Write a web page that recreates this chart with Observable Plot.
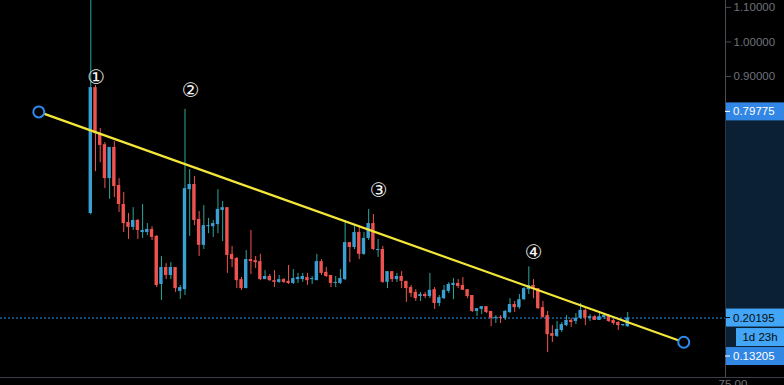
<!DOCTYPE html>
<html><head><meta charset="utf-8">
<script src="https://cdn.jsdelivr.net/npm/d3@7"></script>
<script src="https://cdn.jsdelivr.net/npm/@observablehq/plot@0.6"></script>
<style>html,body{margin:0;padding:0;background:#000;overflow:hidden}svg{display:block}</style>
</head><body><div id="chart"></div>
<script>
// OHLC values (candle index 0..114)
const opens  = [0.504,0.868,0.735,0.703,0.605,0.695,0.585,0.530,0.478,0.464,0.484,0.449,0.449,0.458,0.438,0.299,0.348,0.325,0.348,0.279,
                0.284,0.573,0.588,0.487,0.412,0.466,0.466,0.472,0.513,0.521,0.386,0.374,0.313,0.287,0.371,0.368,0.365,0.313,0.322,0.310,
                0.305,0.313,0.308,0.302,0.313,0.313,0.319,0.313,0.310,0.365,0.334,0.325,0.302,0.302,0.313,0.420,0.406,0.449,0.386,0.432,
                0.475,0.397,0.400,0.305,0.336,0.313,0.322,0.308,0.290,0.276,0.264,0.270,0.264,0.284,0.244,0.258,0.279,0.296,0.302,0.296,
                0.284,0.267,0.221,0.227,0.235,0.221,0.201,0.204,0.201,0.218,0.241,0.232,0.255,0.284,0.296,0.287,0.232,0.209,0.157,0.149,
                0.166,0.180,0.195,0.192,0.201,0.224,0.201,0.206,0.195,0.203,0.209,0.195,0.189,0.180,0.177];
const highs  = [1.150,0.874,0.750,0.709,0.695,0.712,0.605,0.565,0.504,0.521,0.487,0.530,0.475,0.466,0.440,0.380,0.359,0.362,0.348,0.296,
                0.805,0.631,0.611,0.510,0.527,0.490,0.484,0.573,0.539,0.521,0.409,0.377,0.319,0.397,0.455,0.380,0.386,0.339,0.328,0.339,
                0.325,0.316,0.354,0.342,0.331,0.331,0.331,0.322,0.386,0.371,0.348,0.325,0.322,0.342,0.484,0.420,0.472,0.469,0.449,0.516,
                0.501,0.429,0.409,0.336,0.336,0.331,0.336,0.308,0.296,0.284,0.276,0.276,0.331,0.290,0.267,0.296,0.304,0.316,0.313,0.319,
                0.284,0.267,0.229,0.235,0.235,0.221,0.209,0.209,0.224,0.258,0.250,0.270,0.290,0.350,0.313,0.287,0.250,0.221,0.180,0.192,
                0.189,0.209,0.201,0.215,0.244,0.229,0.212,0.209,0.215,0.215,0.212,0.198,0.192,0.183,0.218];
const lows   = [0.500,0.625,0.651,0.576,0.545,0.550,0.507,0.449,0.429,0.455,0.429,0.432,0.440,0.426,0.290,0.253,0.313,0.313,0.276,0.256,
                0.267,0.438,0.469,0.380,0.400,0.446,0.435,0.446,0.423,0.331,0.348,0.287,0.282,0.287,0.328,0.345,0.310,0.313,0.308,0.290,
                0.302,0.302,0.299,0.299,0.302,0.305,0.296,0.299,0.310,0.325,0.319,0.290,0.290,0.299,0.310,0.362,0.400,0.371,0.383,0.426,
                0.397,0.377,0.302,0.287,0.305,0.305,0.287,0.247,0.261,0.250,0.250,0.258,0.258,0.227,0.235,0.255,0.273,0.255,0.287,0.284,
                0.258,0.218,0.206,0.212,0.215,0.177,0.186,0.186,0.195,0.215,0.218,0.227,0.253,0.270,0.258,0.227,0.201,0.102,0.131,0.146,
                0.160,0.177,0.175,0.183,0.198,0.180,0.192,0.195,0.195,0.198,0.189,0.181,0.166,0.177,0.175];
const closes = [0.868,0.735,0.701,0.605,0.695,0.582,0.530,0.475,0.464,0.484,0.455,0.455,0.458,0.435,0.296,0.348,0.325,0.348,0.287,0.290,
                0.576,0.588,0.484,0.412,0.469,0.469,0.475,0.516,0.521,0.383,0.371,0.310,0.287,0.371,0.365,0.362,0.313,0.322,0.310,0.305,
                0.313,0.305,0.302,0.316,0.319,0.322,0.310,0.316,0.365,0.331,0.322,0.302,0.305,0.316,0.420,0.406,0.449,0.386,0.432,0.475,
                0.400,0.400,0.305,0.336,0.313,0.322,0.308,0.287,0.273,0.258,0.270,0.264,0.282,0.244,0.261,0.282,0.299,0.302,0.293,0.282,
                0.264,0.221,0.229,0.235,0.218,0.201,0.204,0.201,0.221,0.241,0.232,0.255,0.287,0.296,0.287,0.229,0.204,0.154,0.149,0.169,
                0.183,0.195,0.189,0.201,0.224,0.201,0.206,0.195,0.206,0.209,0.192,0.186,0.180,0.183,0.20195];

const tickValues = [0.3, 0.4, 0.5, 0.6, 0.7, 0.9, 1.0, 1.1];
const markerLabels = ["①", "②", "③", "④"];
const markerCandles = [1.15, 21.2, 61.15, 94.05];
const markerPrices = [0.898, 0.858, 0.571, 0.392];
const trendIndex = [-11.04, 125.9];
const trendPrice = [0.79775, 0.13205];
const lastPrice = 0.20195;
const countdownText = "1d 23h";
const lowerPaneLabel = "75.00";

const candles = opens.map((o, i) => {
  const c = closes[i];
  let top = Math.max(o, c), bot = Math.min(o, c);
  if (top - bot < 0.003) { const m = (top + bot) / 2; top = m + 0.0015; bot = m - 0.0015; }
  return {i, open: o, high: highs[i], low: lows[i], close: c, top, bot, up: c >= o};
});
const trend = trendIndex.map((x, k) => ({x, y: trendPrice[k]}));
const markers = markerLabels.map((t, k) => ({t, x: markerCandles[k], y: markerPrices[k]}));

const upBody = "#3aa0d4", upWick = "#2ba89c", down = "#ef5350";
const font = "'Liberation Sans', Arial, sans-serif";
const yDomain = [0.0301, 1.1197];
const xDomain = [-19.17, 134.76];

const plot = Plot.plot({
  width: 784, height: 385,
  marginTop: 0, marginBottom: 8, marginLeft: 0, marginRight: 59,
  style: {background: "#000", fontFamily: font, fontSize: "11.5px"},
  x: {type: "linear", domain: xDomain, axis: null},
  y: {type: "linear", domain: yDomain, axis: null},
  marks: [
    Plot.ruleY([lastPrice], {stroke: "#2196f3", strokeWidth: 1, strokeDasharray: "2,2"}),
    Plot.ruleX(candles, {x: "i", y1: "low", y2: "high", stroke: d => d.up ? upWick : down, strokeWidth: 1, clip: true}),
    Plot.rect(candles, {x1: d => d.i - 0.36, x2: d => d.i + 0.36, y1: "bot", y2: "top", fill: d => d.up ? upBody : down, clip: true}),
    Plot.line(trend, {x: "x", y: "y", stroke: "#f2e63a", strokeWidth: 2.2}),
    Plot.dot(trend, {x: "x", y: "y", r: 5.5, stroke: "#2f8af0", strokeWidth: 2, fill: "#000"}),
    Plot.text(markers, {x: "x", y: "y", text: "t", fill: "#f4f4f4", fontSize: 20, fontFamily: "'DejaVu Sans', sans-serif", lineAnchor: "middle"}),
    Plot.ruleX([xDomain[1]], {stroke: "#4a4d55", strokeWidth: 1}),
    Plot.axisY(tickValues, {anchor: "right", tickSize: 5, tickPadding: 3, tickFormat: d3.format(".5f"), stroke: "#4a4d55", fill: "#6f727c", fontSize: 11.5})
  ]
});
document.getElementById("chart").appendChild(plot);

// price-scale labels drawn through the plot's own y scale
const ys = plot.scale("y");
const svg = d3.select(plot);
const xAxis = 725, W = 784;
const yTop = ys.apply(trendPrice[0]), yBot = ys.apply(trendPrice[1]);
const g = svg.append("g").attr("font-family", font).attr("font-size", 11.5);
g.append("rect").attr("x", xAxis + 0.5).attr("y", yTop).attr("width", W - xAxis).attr("height", yBot - yTop + 13).attr("fill", "#0b1f35");
function box(yc, label, bg, fg, x0, anchorMid) {
  g.append("rect").attr("x", x0).attr("y", yc - 9).attr("width", W - x0).attr("height", 18).attr("fill", bg);
  if (!anchorMid) g.append("line").attr("x1", xAxis).attr("x2", xAxis + 5).attr("y1", yc).attr("y2", yc).attr("stroke", fg);
  g.append("text").attr("x", anchorMid ? (x0 + W) / 2 : xAxis + 8).attr("y", yc).attr("dy", "0.35em")
    .attr("text-anchor", anchorMid ? "middle" : "start").attr("fill", fg).text(label);
}
const yLast = ys.apply(lastPrice);
box(yTop, d3.format(".5f")(trendPrice[0]), "#3286e4", "#fff", xAxis + 1, false);
box(yLast, d3.format(".5f")(lastPrice), "#42a5f5", "#0a0a0a", xAxis + 1, false);
box(yLast + 19.5, countdownText, "#42a5f5", "#0a0a0a", 736, true);
box(yLast + 38.5, d3.format(".5f")(trendPrice[1]), "#3286e4", "#fff", xAxis + 1, false);
const yPane = ys.apply(yDomain[0]);
g.append("line").attr("x1", 0).attr("x2", W).attr("y1", yPane + 0.5).attr("y2", yPane + 0.5).attr("stroke", "#3a3d45");
g.append("text").attr("x", xAxis + 8).attr("y", yPane + 11).attr("fill", "#6f727c").text(lowerPaneLabel);
</script>
</body></html>
